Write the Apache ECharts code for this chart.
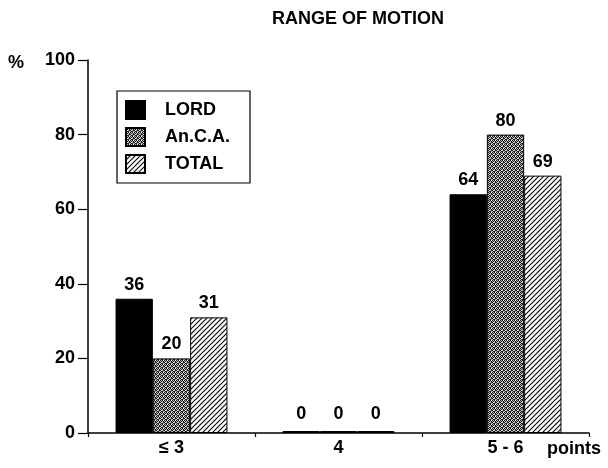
<!DOCTYPE html>
<html>
<head>
<meta charset="utf-8">
<script src="https://cdn.jsdelivr.net/npm/echarts@6/dist/echarts.min.js"></script>
<style>
html,body{margin:0;padding:0;background:#fff;}
#main{width:608px;height:468px;}
</style>
</head>
<body>
<div id="main"></div>
<script>
const categories = ['≤ 3', '4', '5 - 6'];
const lordValues = [36, 0, 64];
const ancaValues = [20, 0, 80];
const totalValues = [31, 0, 69];
const yTicks = [0, 20, 40, 60, 80, 100];

function dotPattern() {
  const c = document.createElement('canvas');
  c.width = 4; c.height = 4;
  const g = c.getContext('2d');
  g.fillStyle = '#b4b4b4';
  g.fillRect(0, 0, 4, 4);
  g.fillStyle = '#1a1a1a';
  const pts = [[0,0],[2,0],[1,1],[3,2],[0,2],[2,3],[1,3],[3,1]];
  pts.forEach(p => g.fillRect(p[0], p[1], 1, 1));
  g.fillStyle = '#f2f2f2';
  g.fillRect(3, 0, 1, 1);
  g.fillRect(1, 2, 1, 1);
  return c;
}
function hatchPattern() {
  const s = 5;
  const c = document.createElement('canvas');
  c.width = s; c.height = s;
  const g = c.getContext('2d');
  g.fillStyle = '#fff';
  g.fillRect(0, 0, s, s);
  g.strokeStyle = '#000';
  g.lineWidth = 1.1;
  g.beginPath();
  g.moveTo(-1, s + 1); g.lineTo(s + 1, -1);
  g.moveTo(-1, 1); g.lineTo(1, -1);
  g.moveTo(s - 1, s + 1); g.lineTo(s + 1, s - 1);
  g.stroke();
  return c;
}

const font = '"Liberation Sans", Arial, Helvetica, sans-serif';
const fills = [
  '#000',
  { image: dotPattern(), repeat: 'repeat' },
  { image: hatchPattern(), repeat: 'repeat' }
];
const names = ['LORD', 'An.C.A.', 'TOTAL'];
const valueSets = [lordValues, ancaValues, totalValues];

const chart = echarts.init(document.getElementById('main'), null, { renderer: 'canvas' });
chart.setOption({
  animation: false,
  backgroundColor: '#fff',
  legend: {
    orient: 'vertical',
    left: 117, top: 91,
    padding: [9, 20, 9, 8],
    itemWidth: 19, itemHeight: 18, itemGap: 7,
    borderColor: '#000', borderWidth: 1.2,
    icon: 'rect',
    data: names,
    textStyle: { fontFamily: font, fontWeight: 'bold', fontSize: 18, color: '#000', padding: [0, 0, 0, 15] }
  },
  grid: { left: 88, right: 19, top: 60, bottom: 35, containLabel: false },
  xAxis: {
    type: 'category',
    data: categories,
    axisLine: { lineStyle: { color: '#000', width: 1.5 } },
    axisTick: { show: true, length: 4, lineStyle: { color: '#000', width: 1.2 } },
    axisLabel: { fontFamily: font, fontWeight: 'bold', fontSize: 18, color: '#000', margin: 6 }
  },
  yAxis: {
    type: 'value',
    min: 0, max: 100, interval: 20,
    splitLine: { show: false },
    axisLine: { show: true, lineStyle: { color: '#000', width: 1.5 } },
    axisTick: { show: true, length: 10, lineStyle: { color: '#000', width: 1.2 } },
    axisLabel: {
      fontFamily: font, fontWeight: 'bold', fontSize: 18, color: '#000', margin: 13,
      formatter: v => yTicks.includes(v) ? String(v) : ''
    }
  },
  graphic: [
    { type: 'text', left: 272, top: 10, style: { text: 'RANGE OF MOTION', font: 'bold 18px ' + font, fill: '#000' } },
    { type: 'text', left: 8, top: 54, style: { text: '%', font: 'bold 18px ' + font, fill: '#000' } },
    { type: 'text', left: 547, top: 440, style: { text: 'points', font: 'bold 18px ' + font, fill: '#000' } }
  ],
  series: names.map((n, i) => ({
    name: n,
    type: 'bar',
    barGap: '0%',
    barCategoryGap: '33%',
    barMinHeight: 2,
    itemStyle: { color: fills[i], borderColor: '#000', borderWidth: 1 },
    label: {
      show: true, position: 'top', distance: 5,
      fontFamily: font, fontWeight: 'bold', fontSize: 18, color: '#000'
    },
    data: valueSets[i].map(v => v === 0 ? { value: v, label: { distance: 8 } } : v)
  }))
});
</script>
</body>
</html>
